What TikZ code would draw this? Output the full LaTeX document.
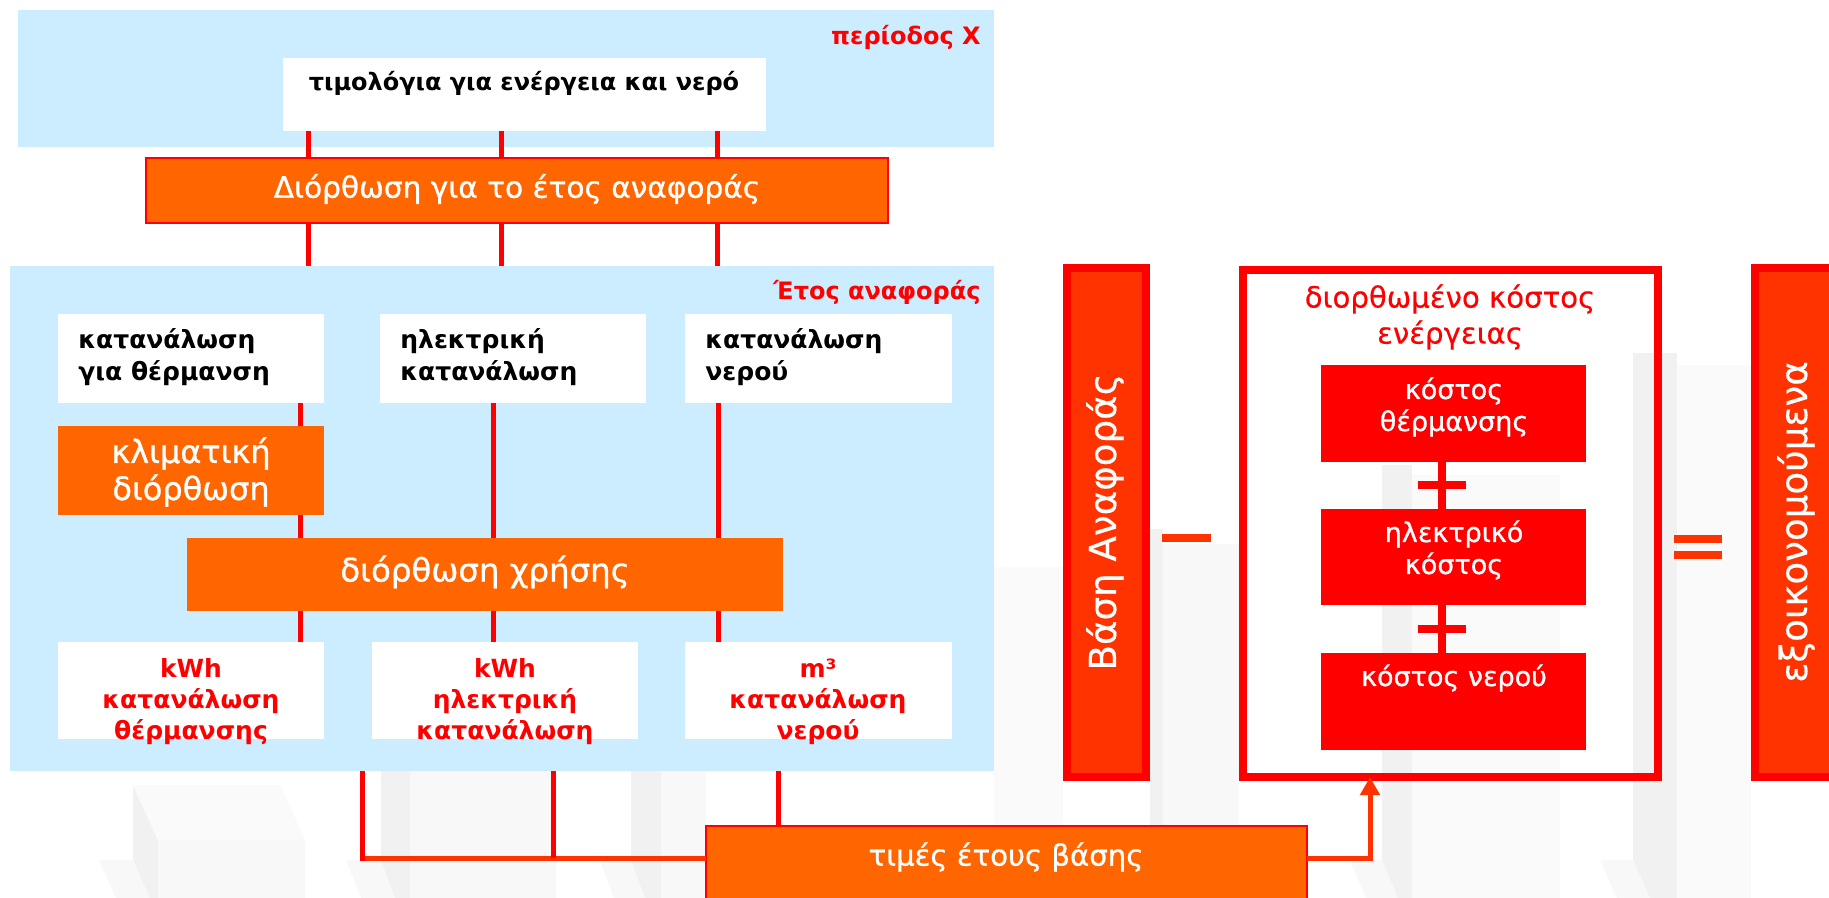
\documentclass[tikz,border=0pt]{standalone}
\usepackage{fontspec}
\setmainfont{DejaVu Sans}
\newfontfamily\medfont{DejaVu Sans}[FakeBold=0.9]
\newfontfamily\lightmed{DejaVu Sans}[FakeBold=0.4]
\usetikzlibrary{arrows.meta,fit}
\definecolor{lblue}{HTML}{CCECFF}
\definecolor{orng}{HTML}{FF6600}
\definecolor{ored}{HTML}{FF3300}
\definecolor{pred}{HTML}{FF0000}
\definecolor{bgA}{HTML}{F8F8F8}
\definecolor{bgB}{HTML}{F1F1F1}
\definecolor{bgC}{HTML}{FAFAFA}
\tikzset{
  area/.style={fill=lblue, inner sep=0pt, outer sep=0pt},
  wbox/.style={fill=white, inner sep=0pt, outer sep=0pt},
  obox/.style={fill=orng, inner sep=0pt, outer sep=0pt, text=white},
  oboxb/.style={obox, draw=pred, line width=0.6pt},
  rbox/.style={fill=pred, inner sep=0pt, outer sep=0pt},
  sidebar/.style={fill=ored, draw=pred, line width=4pt, inner sep=0pt, outer sep=0pt},
  rline/.style={draw=pred, line width=2.5pt},
  oline/.style={draw=ored, line width=2.5pt},
  sign/.style={draw=ored, line width=3.8pt},
  plusbar/.style={draw=pred, line width=3.6pt},
  blacktxt/.style={inner sep=0pt, align=left, anchor=west, font=\bfseries\fontsize{12.5}{16}\selectfont},
  redtxt/.style={inner sep=0pt, align=center, text=pred, font=\bfseries\fontsize{12.5}{15.5}\selectfont},
  headtxt/.style={inner sep=0pt, anchor=east, text=pred, font=\bfseries\fontsize{12}{14}\selectfont},
  whitetxt/.style={inner sep=0pt, align=center, text=white},
}
\begin{document}
\begin{tikzpicture}[x=0.5pt,y=-0.5pt]
\useasboundingbox (0,0) rectangle (1829,898);
\fill[white] (0,0) rectangle (1829,898);

% faint background bars
\fill[bgB] (133,785) -- (158,840) -- (158,898) -- (133,898) -- cycle;
\fill[bgC] (133,785) -- (280,785) -- (305,840) -- (158,840) -- cycle;
\fill[bgA] (158,840) rectangle (305,898);
\fill[bgA] (99,860) -- (133,860) -- (150,898) -- (116,898) -- cycle;
\fill[bgB] (381,771) rectangle (410,898);
\fill[bgA] (410,771) rectangle (556,898);
\fill[bgA] (346,860) -- (381,860) -- (395,898) -- (361,898) -- cycle;
\fill[bgB] (631,771) rectangle (661,898);
\fill[bgA] (661,771) rectangle (706,898);
\fill[bgA] (600,860) -- (631,860) -- (645,898) -- (614,898) -- cycle;
\fill[bgC] (994,567) rectangle (1063,898);
\fill[bgB] (1150,529) rectangle (1163,898);
\fill[bgA] (1163,544) rectangle (1239,898);
\fill[bgB] (1382,465) rectangle (1412,898);
\fill[bgC] (1412,475) rectangle (1560,898);
\fill[bgB] (1633,353) rectangle (1677,898);
\fill[bgC] (1677,365) rectangle (1751,898);
\fill[bgA] (1350,860) -- (1382,860) -- (1398,898) -- (1366,898) -- cycle;
\fill[bgA] (1600,860) -- (1633,860) -- (1650,898) -- (1617,898) -- cycle;

% x positions of the connectors
\coordinate (tx1) at (308,0);
\coordinate (tx2) at (501,0);
\coordinate (tx3) at (717,0);
\coordinate (lx1) at (300,0);
\coordinate (lx2) at (493,0);
\coordinate (lx3) at (718,0);
\coordinate (bx1) at (362,0);
\coordinate (bx2) at (553,0);
\coordinate (bx3) at (778,0);
\coordinate (hy) at (0,858);
\coordinate (ax) at (1370,0);
\coordinate (px) at (1442,0);

% period X area
\node[area, fit={(18,10) (994,147)}] (perA) {};
\node[headtxt] (perAlab) at (981,37) {περίοδος X};
\node[wbox, fit={(283,58) (766,131)}] (bills) {};
\node[inner sep=0pt, font=\bfseries\fontsize{12}{14}\selectfont] (billstxt) at (524,83) {τιμολόγια για ενέργεια και νερό};

% correction to reference year
\node[oboxb, fit={(146,158) (888,223)}] (corr) {};
\node[whitetxt, font=\medfont\fontsize{14.8}{18}\selectfont] (corrtxt) at (517,189) {Διόρθωση για το έτος αναφοράς};

% reference year area
\node[area, fit={(10,266) (994,771)}] (perB) {};
\node[headtxt] (perBlab) at (981,292) {Έτος αναφοράς};

\draw[rline] (bills.south -| tx1) -- (corr.north -| tx1);
\draw[rline] (bills.south -| tx2) -- (corr.north -| tx2);
\draw[rline] (bills.south -| tx3) -- (corr.north -| tx3);
\draw[rline] (corr.south -| tx1) -- (perB.north -| tx1);
\draw[rline] (corr.south -| tx2) -- (perB.north -| tx2);
\draw[rline] (corr.south -| tx3) -- (perB.north -| tx3);

\node[wbox, fit={(58,314) (324,403)}] (heat) {};
\node[wbox, fit={(380,314) (646,403)}] (elec) {};
\node[wbox, fit={(685,314) (952,403)}] (water) {};
\node[blacktxt] (heattxt) at (78,357) {κατανάλωση\\για θέρμανση};
\node[blacktxt] (electxt) at (400,357) {ηλεκτρική\\κατανάλωση};
\node[blacktxt] (watertxt) at (705,357) {κατανάλωση\\νερού};

\node[obox, fit={(58,426) (324,515)}] (clim) {};
\node[whitetxt, font=\medfont\fontsize{16}{18.5}\selectfont] (climtxt) at (191,472) {κλιματική\\διόρθωση};

\node[obox, fit={(187,538) (783,611)}] (use) {};
\node[whitetxt, font=\medfont\fontsize{16.2}{19}\selectfont] (usetxt) at (485,572) {διόρθωση χρήσης};

\node[wbox, fit={(58,642) (324,739)}] (kwh1) {};
\node[wbox, fit={(372,642) (638,739)}] (kwh2) {};
\node[wbox, fit={(685,642) (952,739)}] (mc) {};
\node[redtxt] (kwh1txt) at (191,702) {kWh\\κατανάλωση\\θέρμανσης};
\node[redtxt] (kwh2txt) at (505,702) {kWh\\ηλεκτρική\\κατανάλωση};
\node[redtxt] (mctxt) at (818,702) {m³\\κατανάλωση\\νερού};

\draw[rline] (heat.south -| lx1) -- (clim.north -| lx1);
\draw[rline] (clim.south -| lx1) -- (use.north -| lx1);
\draw[rline] (elec.south -| lx2) -- (use.north -| lx2);
\draw[rline] (water.south -| lx3) -- (use.north -| lx3);
\draw[rline] (use.south -| lx1) -- (kwh1.north -| lx1);
\draw[rline] (use.south -| lx2) -- (kwh2.north -| lx2);
\draw[rline] (use.south -| lx3) -- (mc.north -| lx3);

% base-year prices
\node[oboxb, fit={(706,826) (1307,910)}] (prices) {};
\node[whitetxt, font=\medfont\fontsize{14.6}{18}\selectfont] (pricestxt) at (1006,857) {τιμές έτους βάσης};

\draw[oline] (bx1 |- hy) -- (prices.west |- hy);
\draw[rline] (perB.south -| bx1) -- ([yshift=-1.25pt]bx1 |- hy);
\draw[rline] (perB.south -| bx2) -- (bx2 |- hy);
\draw[rline] (perB.south -| bx3) -- (prices.north -| bx3);

% right part
\node[sidebar, fit={(1067,268) (1146,777)}] (base) {};
\node[whitetxt, rotate=90, font=\lightmed\fontsize{18.6}{22}\selectfont] (basetxt) at (1105,522) {Βάση Αναφοράς};

\coordinate (m1) at (1162,538);
\coordinate (m2) at (1211,538);
\draw[sign] (m1) -- (m2);

\node[draw=pred, line width=3.6pt, inner sep=0pt, outer sep=0pt, fit={(1243,270) (1658,777)}] (big) {};
\node[inner sep=0pt, align=center, text=pred, font=\lightmed\fontsize{14.6}{18}\selectfont] (bigtxt) at (1450,317) {διορθωμένο κόστος\\ενέργειας};

\node[rbox, fit={(1321,365) (1586,462)}] (c1) {};
\node[rbox, fit={(1321,509) (1586,605)}] (c2) {};
\node[rbox, fit={(1321,653) (1586,750)}] (c3) {};
\node[whitetxt, font=\medfont\fontsize{13.5}{16}\selectfont] (c1txt) at (1454,407) {κόστος\\θέρμανσης};
\node[whitetxt, font=\medfont\fontsize{13.5}{16}\selectfont] (c2txt) at (1454,550) {ηλεκτρικό\\κόστος};
\node[whitetxt, font=\medfont\fontsize{13.5}{16}\selectfont] (c3txt) at (1454,678) {κόστος νερού};

\draw[plusbar] (c1.south -| px) -- (c2.north -| px);
\draw[plusbar] (c2.south -| px) -- (c3.north -| px);
\coordinate (p1a) at (1418,485);
\coordinate (p1b) at (1466,485);
\coordinate (p2a) at (1418,629);
\coordinate (p2b) at (1466,629);
\draw[plusbar] (p1a) -- (p1b);
\draw[plusbar] (p2a) -- (p2b);

\coordinate (e1a) at (1674,539);
\coordinate (e1b) at (1722,539);
\coordinate (e2a) at (1674,555);
\coordinate (e2b) at (1722,555);
\draw[sign] (e1a) -- (e1b);
\draw[sign] (e2a) -- (e2b);

\node[sidebar, fit={(1755,268) (1834,777)}] (saved) {};
\node[whitetxt, rotate=90, font=\lightmed\fontsize{18.6}{22}\selectfont] (savedtxt) at (1796,522) {εξοικονομούμενα};

\draw[oline, -{Triangle[length=9pt,width=9.5pt]}] (prices.east |- hy) -| (big.south -| ax);
\end{tikzpicture}
\end{document}
